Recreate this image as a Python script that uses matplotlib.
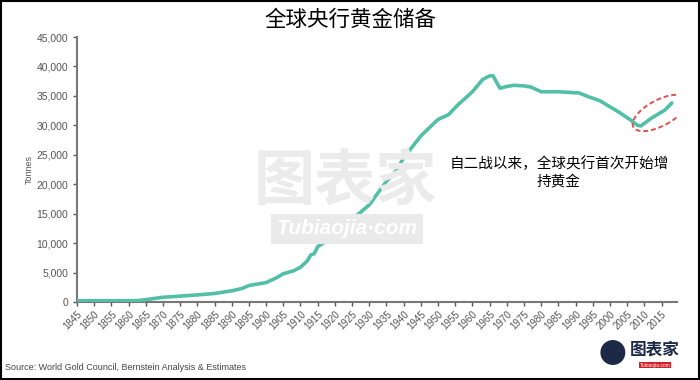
import matplotlib
matplotlib.use("Agg")
import matplotlib.pyplot as plt
from matplotlib.patches import Ellipse, Rectangle
from matplotlib.transforms import ScaledTranslation
from matplotlib.ticker import FuncFormatter

plt.rcParams["font.family"] = ["Liberation Sans", "Noto Sans CJK SC", "DejaVu Sans"]
CJK = ["Noto Sans CJK SC", "DejaVu Sans"]

# ── Data (central bank gold holdings, tonnes) ──────────────────────────────
years = [1845, 1850, 1855, 1860, 1863, 1865, 1870, 1875, 1880, 1885, 1890,
         1893, 1895, 1900, 1903, 1905, 1908, 1910, 1912, 1913, 1914, 1915,
         1920, 1925, 1930, 1935, 1938, 1940, 1945, 1950, 1953, 1956, 1960,
         1963, 1965, 1966, 1968, 1970, 1972, 1975, 1977, 1980, 1985, 1988,
         1991, 1994, 1997, 1999, 2003, 2006, 2008, 2009, 2012, 2016, 2018]
tonnes = [200, 200, 200, 200, 250, 400, 800, 1000, 1200, 1450, 1900,
          2300, 2800, 3300, 4100, 4800, 5300, 5900, 7000, 8000, 8200, 9400,
          11300, 14000, 16500, 20500, 22400, 24500, 28200, 31000, 31800, 33600, 35700,
          37800, 38400, 38400, 36300, 36600, 36800, 36700, 36500, 35700, 35700, 35600,
          35500, 34800, 34200, 33500, 32100, 30900, 30000, 29900, 31200, 32600, 33800]

tick_years = list(range(1845, 2016, 5))
y_ticks = list(range(0, 45001, 5000))

title = "全球央行黄金储备"
note = "自二战以来，全球央行首次开始增\n持黄金"
source = "Source: World Gold Council, Bernstein Analysis & Estimates"

LINE = "#52BFA7"
GREY = "#555555"

fig = plt.figure(figsize=(7, 3.8), dpi=100)
ax = fig.add_axes([77 / 700, 78 / 380, 600 / 700, 265 / 380])

# faint watermark behind the data
fig.text(345 / 700, 1 - 182 / 380, "图表家", family=CJK, fontsize=44, fontweight="bold",
         color="#ebebeb", ha="center", va="center", zorder=0)
fig.text(347 / 700, 1 - 229 / 380, "Tubiaojia·com", fontsize=15, fontweight="bold",
         style="italic", color="white", ha="center", va="center", zorder=0,
         bbox=dict(boxstyle="square,pad=0.25", fc="#eaeaea", ec="none"))

ax.plot(years, tonnes, color=LINE, linewidth=2.6, solid_capstyle="round", zorder=3)

ax.set_xlim(1845, 2019.5)
ax.set_ylim(0, 45000)
ax.set_xticks(tick_years)
ax.set_xticklabels([str(y) for y in tick_years], rotation=45, ha="right",
                   rotation_mode="anchor", fontsize=7, color=GREY)
ax.set_yticks(y_ticks)
ax.yaxis.set_major_formatter(FuncFormatter(lambda v, _: f"{int(v):,}"))
ax.tick_params(axis="y", labelsize=7.5, labelcolor=GREY, color=GREY, length=3, width=1)
ax.tick_params(axis="x", color=GREY, length=3, width=1, pad=2)
for s in ["top", "right"]:
    ax.spines[s].set_visible(False)
for s in ["left", "bottom"]:
    ax.spines[s].set_color("#777777")
    ax.spines[s].set_linewidth(1.5)
ax.patch.set_alpha(0)

ax.set_ylabel("Tonnes", fontsize=6.5, color=GREY, labelpad=2)

# dashed ellipse around the recent uptick
center = (2014.5, 32100)
ell = Ellipse((0, 0), 0.6, 0.26, angle=28, fill=False, ec="#D9534F", lw=1.4,
              ls=(0, (2.5, 1.5)),
              transform=fig.dpi_scale_trans + ScaledTranslation(*center, ax.transData),
              zorder=4)
ax.add_patch(ell)

fig.text(0.5, 1 - 20 / 380, title, family=CJK, fontsize=15.5, ha="center", va="center")
fig.text(559 / 700, 1 - 173 / 380, note, family=CJK, fontsize=10.5, ha="center",
         va="center", linespacing=1.35)
fig.text(5 / 700, 1 - 367 / 380, source, fontsize=6.5, color="#444444",
         ha="left", va="center")

# corner logo
fig.text(612 / 700, 1 - 355 / 380, "●", family=CJK, fontsize=20, color="#1c2a48",
         ha="center", va="center")
fig.text(655 / 700, 1 - 350 / 380, "图表家", family=CJK, fontsize=12, fontweight="bold",
         color="#1c2a48", ha="center", va="center")
fig.text(655 / 700, 1 - 365 / 380, "Tubiaojia.com", fontsize=3.5, color="white",
         ha="center", va="center", bbox=dict(boxstyle="square,pad=0.2", fc="#d0202a", ec="none"))

fig.patches.append(Rectangle((0.001, 0.002), 0.997, 0.996, transform=fig.transFigure,
                             fill=False, ec="black", lw=1.5))

fig.savefig("out.png", dpi=100)
